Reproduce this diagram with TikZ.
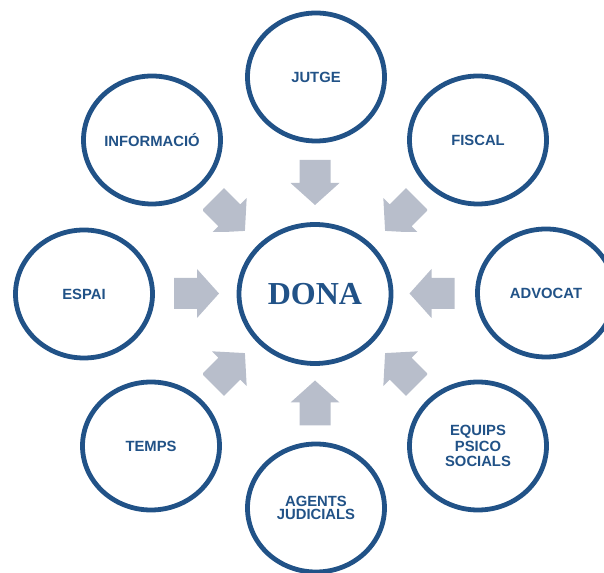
\documentclass[tikz,border=0pt]{standalone}
\usepackage{fontspec}
\setmainfont{Liberation Sans}
\newfontfamily\donafont{Liberation Serif}
\usetikzlibrary{shapes.geometric,positioning}
\definecolor{ringblue}{RGB}{33,82,135}
\definecolor{arrowgray}{RGB}{184,190,203}

% block arrow: centre x, centre y, direction
\newcommand{\blockarrow}[3]{%
  \fill[arrowgray, shift={(#1,#2)}, rotate=#3] (-22.5,-15.5) -- (0.5,-15.5) -- (0.5,-24.5) -- (22.5,0) -- (0.5,24.5) -- (0.5,15.5) -- (-22.5,15.5) -- cycle;}

\begin{document}
\begin{tikzpicture}[
    x=1pt, y=1pt,
    actor/.style={ellipse, draw=ringblue, line width=4.8pt, fill=white, minimum width=137pt, minimum height=128pt, inner sep=0pt, align=center, text=ringblue, font=\fontsize{14.8}{15.5}\selectfont\bfseries},
    centre/.style={ellipse, draw=ringblue, line width=4.8pt, fill=white, minimum width=152pt, minimum height=139pt, inner sep=0pt, text=ringblue, font=\donafont\fontsize{32}{36}\selectfont\bfseries}
]
\useasboundingbox (0,0) rectangle (604,572);

% === CENTRE ===
\node[centre] (dona) at (315,278) {DONA};

% === SURROUNDING ACTORS ===
\node[actor] (jutge) at (316,495) {JUTGE};
\node[actor] (fiscal) at (478,432) {FISCAL};
\node[actor] (advocat) at (546,279) {ADVOCAT};
\node[actor] (equips) at (478,126) {EQUIPS\\PSICO\\SOCIALS};
\node[actor, font=\fontsize{14.8}{13.5}\selectfont\bfseries] (agents) at (316,64) {AGENTS\\JUDICIALS};
\node[actor] (temps) at (151,126) {TEMPS};
\node[actor] (espai) at (84,278) {ESPAI};
\node[actor] (informacio) at (152,432) {INFORMACIÓ};

% === ARROWS TOWARDS THE CENTRE ===
% straight ones
\blockarrow{315}{389.5}{-90}
\blockarrow{315}{169}{90}
\blockarrow{196.5}{278.5}{0}
\blockarrow{432}{278.5}{180}

% diagonal ones, cut to their boxes
\begin{scope}
  \clip (203,340) rectangle (249,384);
  \blockarrow{229}{357}{-45}
\end{scope}
\begin{scope}
  \clip (381,340) rectangle (427,384);
  \blockarrow{401}{357}{-135}
\end{scope}
\begin{scope}
  \clip (203,175) rectangle (249,220);
  \blockarrow{229}{203}{45}
\end{scope}
\begin{scope}
  \clip (381,175) rectangle (427,220);
  \blockarrow{401}{203}{135}
\end{scope}

\end{tikzpicture}
\end{document}
